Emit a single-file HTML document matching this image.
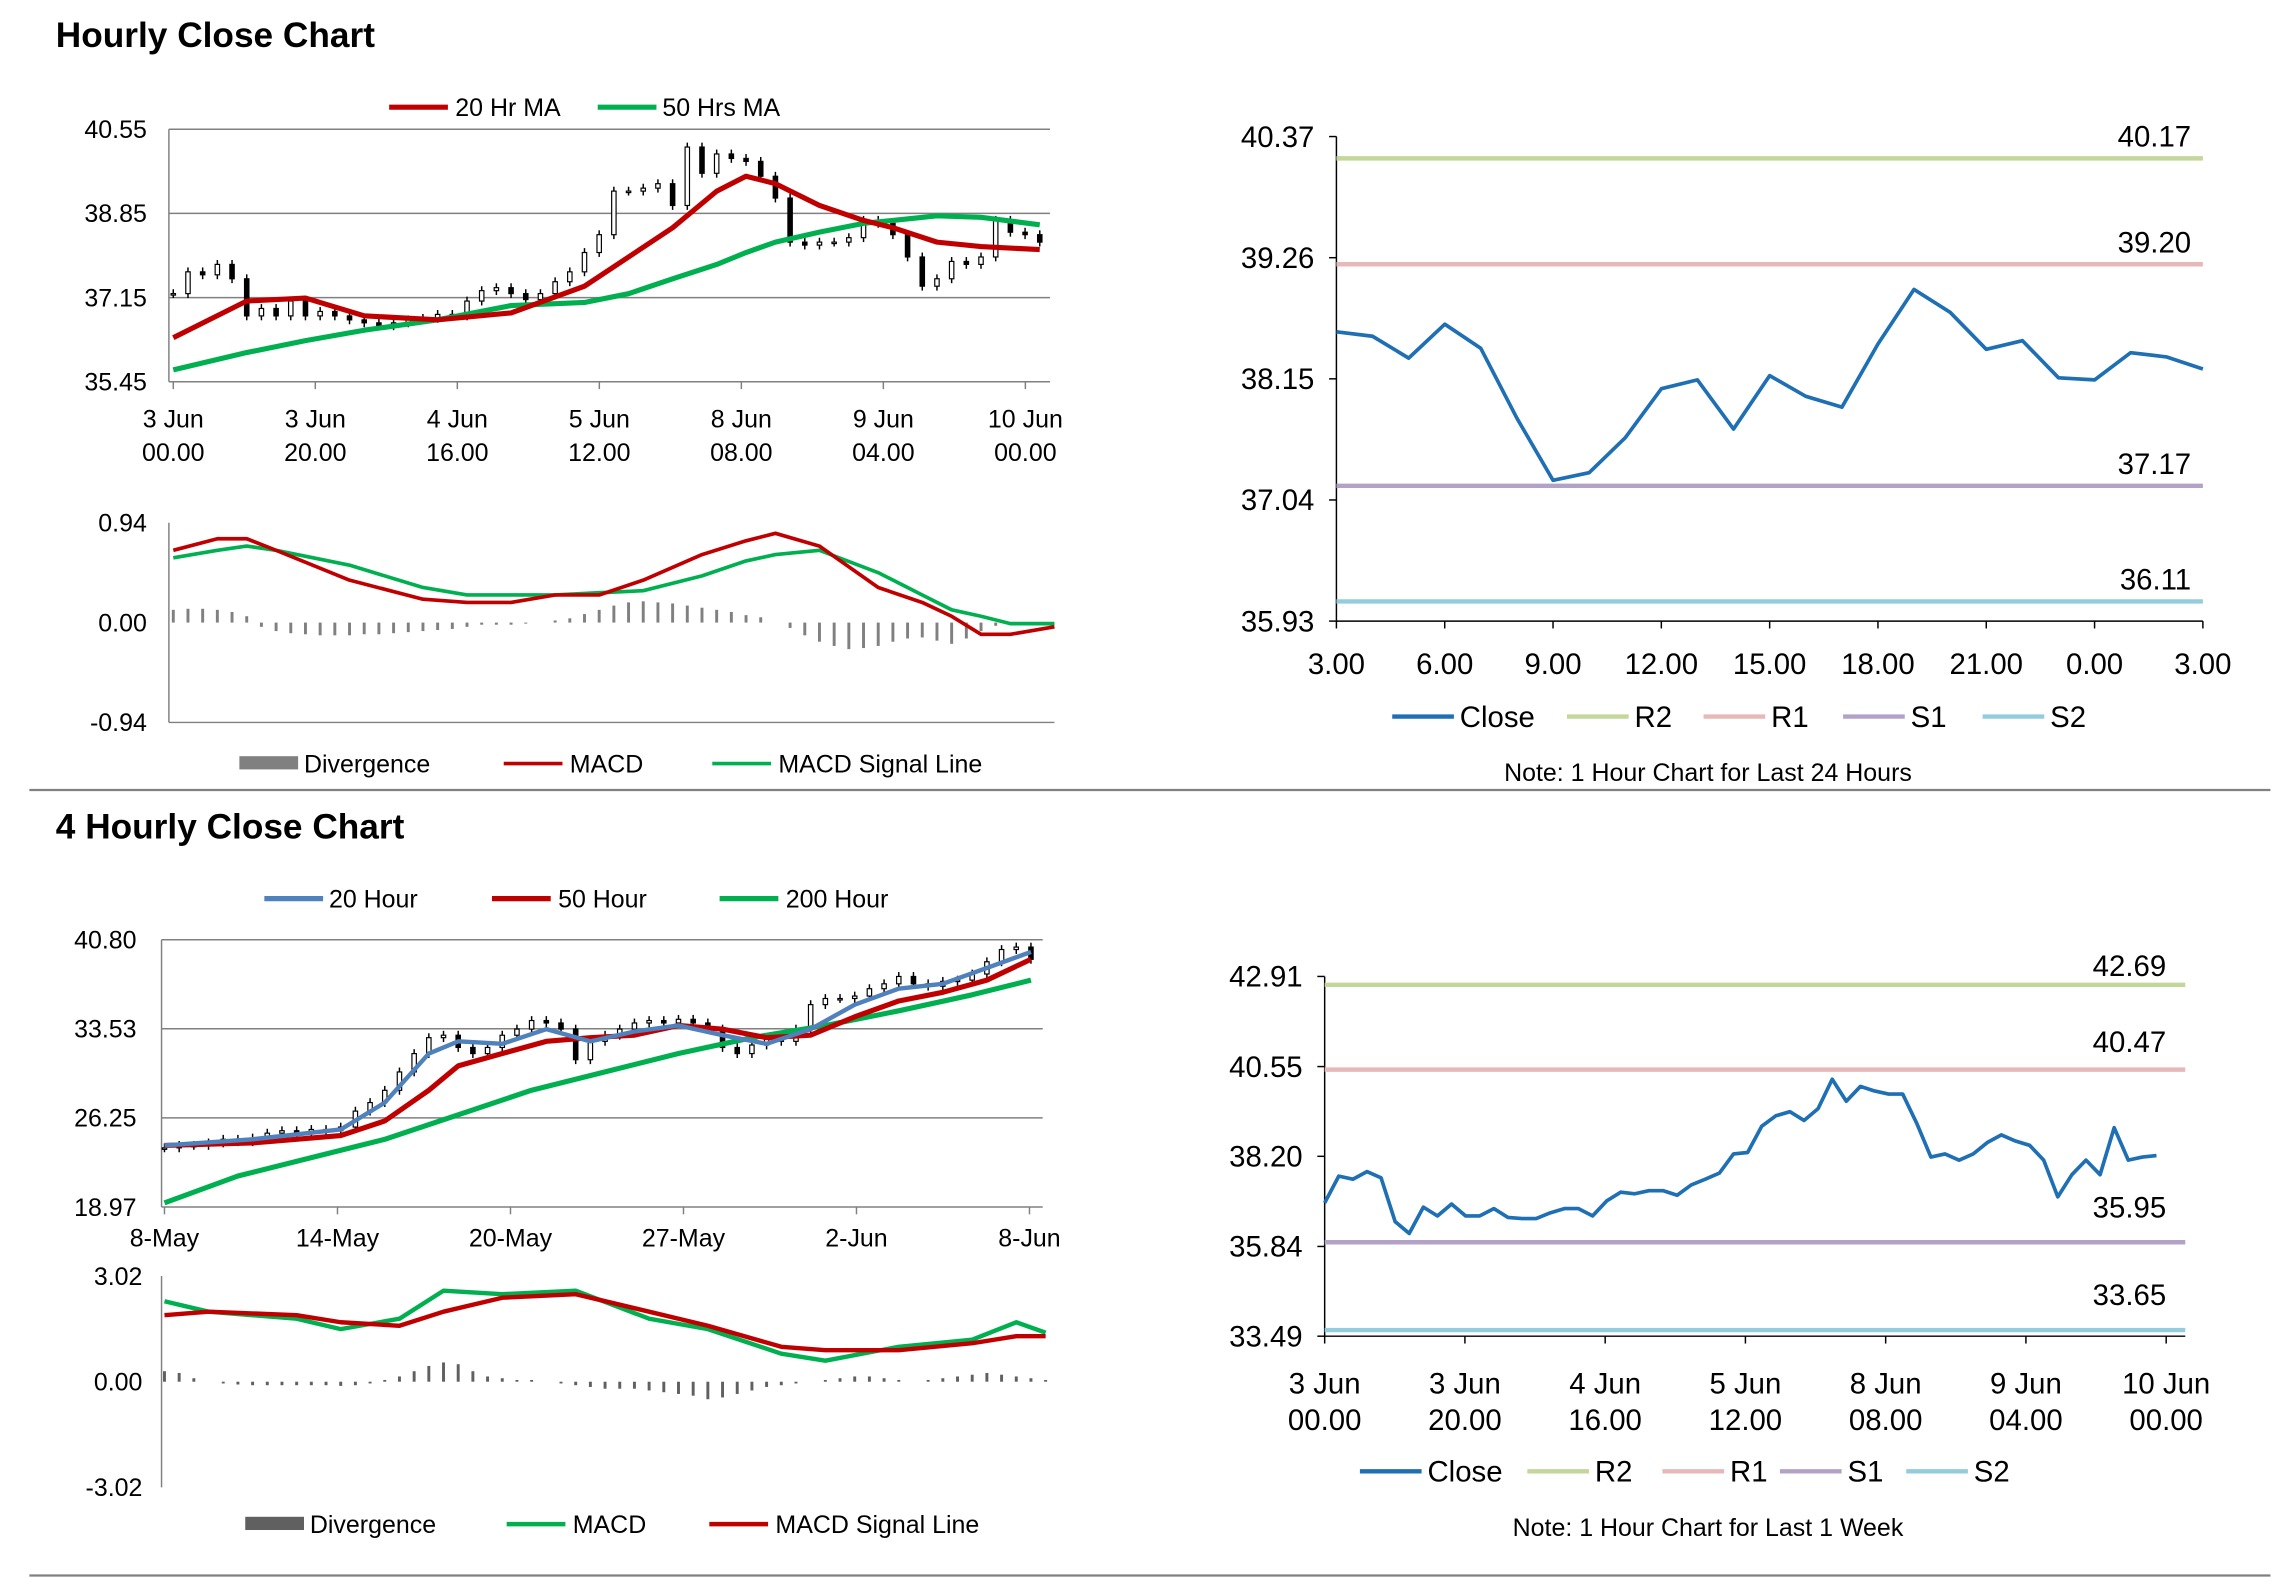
<!DOCTYPE html>
<html><head><meta charset="utf-8"><style>
html,body{margin:0;padding:0;background:#fff;}
svg{display:block;font-family:"Liberation Sans",Arial,sans-serif;}
</style></head><body>
<svg id="c" width="2291" height="1577" viewBox="0 0 1560 1074" preserveAspectRatio="none" xmlns="http://www.w3.org/2000/svg">
<text x="38" y="32" font-size="24" font-weight="bold">Hourly Close Chart</text>
<text x="38" y="571" font-size="24" font-weight="bold">4 Hourly Close Chart</text>
<line x1="20" y1="538" x2="1546" y2="538" stroke="#808080" stroke-width="1.5"/>
<line x1="20" y1="1073" x2="1546" y2="1073" stroke="#808080" stroke-width="1.5"/>
</svg>
<script>
// ---------- Chart data ----------
const h1Close = [37.23,37.67,37.61,37.82,37.53,36.78,36.93,36.78,37.08,36.78,36.87,36.78,36.70,36.64,36.58,36.64,36.70,36.73,36.81,36.78,37.08,37.29,37.35,37.23,37.11,37.23,37.47,37.67,38.06,38.42,39.30,39.30,39.36,39.45,39.01,40.19,39.66,40.05,39.96,39.90,39.60,39.16,38.27,38.21,38.27,38.27,38.36,38.71,38.65,38.42,37.97,37.38,37.53,37.88,37.82,37.97,38.71,38.47,38.42,38.27];
const h1MaIdx = [0,5,9,13,18,23,28,31,34,37,39,41,44,47,49,52,55,59];
const h1Ma20 = [36.34,37.08,37.14,36.78,36.70,36.84,37.38,37.97,38.56,39.30,39.60,39.45,39.01,38.71,38.56,38.27,38.18,38.12];
const h1Ma50 = [35.69,36.04,36.28,36.49,36.70,36.99,37.05,37.23,37.53,37.82,38.06,38.27,38.47,38.65,38.71,38.80,38.77,38.62];
const h1Ticks = [35.45,37.15,38.85,40.55];
const h1XLabels = [["3 Jun","00.00"],["3 Jun","20.00"],["4 Jun","16.00"],["5 Jun","12.00"],["8 Jun","08.00"],["9 Jun","04.00"],["10 Jun","00.00"]];

const m1Idx = [0,3,5,7,12,17,20,23,26,29,32,36,39,41,44,48,51,53,55,57,60];
const m1Macd = [0.68,0.79,0.79,0.68,0.40,0.22,0.19,0.19,0.26,0.26,0.40,0.64,0.77,0.84,0.72,0.33,0.19,0.06,-0.11,-0.11,-0.04];
const m1Signal = [0.61,0.68,0.72,0.68,0.54,0.33,0.26,0.26,0.26,0.28,0.30,0.44,0.58,0.64,0.68,0.47,0.26,0.12,0.06,-0.01,-0.01];
const m1Div = [0.12,0.13,0.13,0.12,0.10,0.06,-0.04,-0.08,-0.10,-0.11,-0.12,-0.12,-0.12,-0.11,-0.11,-0.10,-0.09,-0.08,-0.07,-0.06,-0.04,-0.02,-0.02,-0.02,-0.01,0.00,0.02,0.04,0.08,0.12,0.16,0.19,0.20,0.19,0.18,0.16,0.14,0.12,0.10,0.07,0.05,0.00,-0.05,-0.12,-0.18,-0.22,-0.25,-0.24,-0.22,-0.18,-0.15,-0.14,-0.17,-0.20,-0.15,-0.08,-0.03,-0.01,0.00,0.00,0.00];
const m1Ticks = [-0.94,0.00,0.94];

const r1Close = [38.58,38.54,38.34,38.65,38.43,37.79,37.22,37.29,37.61,38.06,38.14,37.69,38.18,37.99,37.89,38.47,38.97,38.76,38.42,38.50,38.16,38.14,38.39,38.35,38.24];
const r1Levels = [40.17,39.20,37.17,36.11];
const r1Ticks = [35.93,37.04,38.15,39.26,40.37];
const r1XLabels = ["3.00","6.00","9.00","12.00","15.00","18.00","21.00","0.00","3.00"];

const h4Close = [23.8,24.0,24.0,24.2,24.5,24.3,24.6,25.0,25.2,25.0,25.3,25.2,25.5,26.8,27.5,28.5,30.0,31.5,32.8,33.0,32.0,31.5,32.0,33.0,33.5,34.2,34.0,33.5,31.0,32.5,33.0,33.5,34.0,34.2,34.0,34.3,34.0,33.5,32.0,31.5,32.2,32.8,32.5,33.5,35.5,36.0,36.0,36.2,36.8,37.2,37.8,37.2,37.0,37.4,37.5,38.0,39.0,40.0,40.2,39.2];
const h4MaIdx = [0,6,12,15,18,20,23,26,29,32,35,38,41,44,47,50,53,56,59];
const h4Ma20 = [24.0,24.5,25.3,27.5,31.5,32.5,32.3,33.5,32.5,33.3,33.8,33.0,32.3,33.5,35.5,36.8,37.2,38.5,39.8];
const h4Ma50 = [24.0,24.2,24.8,26.0,28.5,30.5,31.5,32.5,32.8,33.0,33.8,33.5,32.8,33.0,34.5,35.8,36.5,37.5,39.2];
const h4Ma200Idx = [0,5,10,15,20,25,30,35,40,45,50,55,59];
const h4Ma200 = [19.3,21.5,23.0,24.5,26.5,28.5,30.0,31.5,32.8,33.8,35.0,36.3,37.5];
const h4Ticks = [18.97,26.25,33.53,40.80];
const h4XLabels = ["8-May","14-May","20-May","27-May","2-Jun","8-Jun"];

const m2Idx = [0,3,9,12,16,19,23,28,33,37,42,45,50,55,58,60];
const m2Signal = [1.9,2.0,1.9,1.7,1.6,2.0,2.4,2.5,2.0,1.6,1.0,0.9,0.9,1.1,1.3,1.3];
const m2Macd = [2.3,2.0,1.8,1.5,1.8,2.6,2.5,2.6,1.8,1.5,0.8,0.6,1.0,1.2,1.7,1.4];
const m2Div = [0.3,0.25,0.1,0.0,-0.05,-0.08,-0.1,-0.1,-0.1,-0.1,-0.1,-0.1,-0.12,-0.1,-0.05,0.05,0.15,0.3,0.45,0.55,0.5,0.3,0.15,0.1,0.05,0.05,0.0,-0.05,-0.1,-0.15,-0.2,-0.2,-0.2,-0.25,-0.3,-0.35,-0.4,-0.5,-0.45,-0.35,-0.25,-0.15,-0.1,-0.05,0.0,0.05,0.1,0.15,0.15,0.1,0.05,0.0,0.05,0.1,0.15,0.2,0.25,0.2,0.15,0.1,0.05];
const m2Ticks = [-3.02,0.00,3.02];

const r2Close = [36.98,37.68,37.60,37.80,37.64,36.49,36.18,36.87,36.64,36.95,36.64,36.64,36.83,36.60,36.57,36.57,36.72,36.83,36.83,36.64,37.03,37.26,37.22,37.30,37.30,37.18,37.45,37.60,37.76,38.26,38.30,38.99,39.26,39.37,39.14,39.45,40.22,39.64,40.03,39.91,39.83,39.83,39.06,38.18,38.26,38.10,38.26,38.56,38.76,38.60,38.49,38.10,37.14,37.72,38.10,37.72,38.95,38.10,38.18,38.22];
const r2Levels = [42.69,40.47,35.95,33.65];
const r2Ticks = [33.49,35.84,38.20,40.55,42.91];
const r2XLabels = [["3 Jun","00.00"],["3 Jun","20.00"],["4 Jun","16.00"],["5 Jun","12.00"],["8 Jun","08.00"],["9 Jun","04.00"],["10 Jun","00.00"]];

const levelColors = ["#c3d69b","#e6b9b8","#b3a2c7","#93cddd"];
const levelNames = ["r2","r1","s1","s2"];
const RED="#c00000", GREEN="#00b050", BLUE="#1f6fb5", LBLUE="#4f81bd";

// ---------- helpers ----------
const NS="http://www.w3.org/2000/svg";
const svg=document.getElementById('c');
function mk(tag,attrs,name){
  const el=document.createElementNS(NS,tag);
  for(const k in attrs) el.setAttribute(k,attrs[k]);
  
  
  svg.appendChild(el);
  return el;
}
function txt(x,y,s,name,opt){
  opt=opt||{};
  const el=mk('text',{x:x,y:y,'font-size':opt.size||17,'text-anchor':opt.anchor||'start',fill:opt.fill||'#000'},name);
  el.textContent=s;
  return el;
}
function ln(x1,y1,x2,y2,c,w,name){return mk('line',{x1:x1,y1:y1,x2:x2,y2:y2,stroke:c,'stroke-width':w},name);}
function sy(v,min,max,top,bot){return bot-(v-min)/(max-min)*(bot-top);}
function poly(pts,c,w,name){return mk('polyline',{points:pts.map(p=>p[0].toFixed(1)+','+p[1].toFixed(1)).join(' '),fill:'none',stroke:c,'stroke-width':w,'stroke-linejoin':'round'},name);}

// ---------- Chart 1: hourly candles ----------
(function(){
  const T=88,B=260,L=115,R=715,mn=h1Ticks[0],mx=h1Ticks[h1Ticks.length-1];
  const X=i=>118+10*i, Y=v=>sy(v,mn,mx,T,B);
  h1Ticks.forEach((t,k)=>{ln(L,Y(t),R,Y(t),'#808080',1,'h1-gridline');txt(100,Y(t)+6,t.toFixed(2),'h1-y-tick',{anchor:'end'});});
  ln(L,T,L,B,'#808080',1,'h1-y-axis');
  h1XLabels.forEach((l,k)=>{const x=118+k*96.7;ln(x,B,x,B+5,'#808080',1,'h1-x-tick');txt(x,291,l[0],'h1-x-label',{anchor:'middle'});txt(x,314,l[1],'h1-x-label',{anchor:'middle'});});
  h1Close.forEach((c,i)=>{
    const o=i?h1Close[i-1]:c; const x=X(i);
    const hi=Math.max(o,c), lo=Math.min(o,c);
    ln(x,Y(hi)-3,x,Y(lo)+3,'#000',1,'h1-candle-wick');
    mk('rect',{x:x-1.5,y:Y(hi),width:3,height:Math.max(1,Y(lo)-Y(hi)),fill:c<o?'#000':'#fff',stroke:'#000','stroke-width':0.8},'h1-candle');
  });
  poly(h1MaIdx.map((i,k)=>[X(i),Y(h1Ma50[k])]),GREEN,3.5,'h1-ma50-line');
  poly(h1MaIdx.map((i,k)=>[X(i),Y(h1Ma20[k])]),RED,3.5,'h1-ma20-line');
  ln(265,73,305,73,RED,3.5,'legend-20hr-ma-swatch');txt(310,79,'20 Hr MA','legend-20hr-ma');
  ln(407,73,447,73,GREEN,3.5,'legend-50hrs-ma-swatch');txt(451,79,'50 Hrs MA','legend-50hrs-ma');
})();

// ---------- MACD 1 ----------
(function(){
  const T=356,B=492,L=115,R=718,mn=m1Ticks[0],mx=m1Ticks[2];
  const X=i=>118+10*i, Y=v=>sy(v,mn,mx,T,B);
  m1Ticks.forEach(t=>txt(100,Y(t)+6,t.toFixed(2),'m1-y-tick',{anchor:'end'}));
  ln(L,T,L,B,'#808080',1,'m1-y-axis');ln(L,B,R,B,'#808080',1,'m1-x-axis');
  m1Div.forEach((d,i)=>{ln(X(i),Y(0),X(i),Y(d),'#808080',2,'m1-divergence-bar');});
  poly(m1Idx.map((i,k)=>[X(i),Y(m1Signal[k])]),GREEN,2.5,'m1-signal-line');
  poly(m1Idx.map((i,k)=>[X(i),Y(m1Macd[k])]),RED,2.5,'m1-macd-line');
  mk('rect',{x:163,y:515,width:40,height:9,fill:'#808080'},'legend-divergence-swatch');txt(207,526,'Divergence','legend-divergence');
  ln(343,520,383,520,RED,2.5,'legend-macd-swatch');txt(388,526,'MACD','legend-macd');
  ln(485,520,525,520,GREEN,2.5,'legend-signal-swatch');txt(530,526,'MACD Signal Line','legend-signal');
})();

// ---------- Right chart generic ----------
function rightChart(p){
  const Y=v=>sy(v,p.mn,p.mx,p.T,p.B);
  p.ticks.forEach(t=>{ln(p.L-5,Y(t),p.L,Y(t),'#000',1,p.id+'-y-tickmark');txt(p.L-15,Y(t)+7,t.toFixed(2),p.id+'-y-tick',{anchor:'end',size:20});});
  ln(p.L,p.T,p.L,p.B,'#000',1,p.id+'-y-axis');ln(p.L,p.B,p.R,p.B,'#000',1,p.id+'-x-axis');
  p.levels.forEach((v,k)=>{
    ln(p.L,Y(v),p.R,Y(v),levelColors[k],3,p.id+'-'+levelNames[k]+'-line');
    txt(p.labX,Y(v)-(p.labOff?p.labOff[k]:8),v.toFixed(2),p.id+'-'+levelNames[k]+'-label',{anchor:'end',size:20});
  });
  const n=p.close.length;
  poly(p.close.map((c,i)=>[p.L+i*p.step,Y(c)]),BLUE,2.5,p.id+'-close-line');
}
rightChart({id:'r1',T:93,B:423,L:910,R:1500,mn:r1Ticks[0],mx:r1Ticks[4],ticks:r1Ticks,levels:r1Levels,close:r1Close,step:590/24,labX:1492});
r1XLabels.forEach((l,k)=>{const x=910+k*73.75;ln(x,423,x,428,'#000',1,'r1-x-tick');txt(x,459,l,'r1-x-label',{anchor:'middle',size:20});});
rightChart({id:'r2',T:665,B:910,L:902,R:1488,mn:r2Ticks[0],mx:r2Ticks[4],ticks:r2Ticks,levels:r2Levels,close:r2Close,step:9.6,labX:1475,labOff:[6,12,17,17]});
r2XLabels.forEach((l,k)=>{const x=902+k*95.5;ln(x,910,x,915,'#000',1,'r2-x-tick');txt(x,949,l[0],'r2-x-label',{anchor:'middle',size:20});txt(x,974,l[1],'r2-x-label',{anchor:'middle',size:20});});

function rightLegend(id,y,xs,noteY,note){
  const names=['Close','R2','R1','S1','S2'];const cols=[BLUE].concat(levelColors);
  names.forEach((n,k)=>{ln(xs[k],y,xs[k]+42,y,cols[k],3,id+'-legend-'+n.toLowerCase()+'-swatch');txt(xs[k]+46,y+7,n,id+'-legend-'+n.toLowerCase(),{size:20});});
  txt(1163,noteY,note,id+'-note',{anchor:'middle',size:17});
}
rightLegend('r1',488,[948,1067,1160,1255,1350],532,'Note: 1 Hour Chart for Last 24 Hours');
rightLegend('r2',1002,[926,1040,1132,1212,1298],1046,'Note: 1 Hour Chart for Last 1 Week');

// ---------- Chart 3: 4 hourly ----------
(function(){
  const T=640,B=822,L=110,R=710,mn=h4Ticks[0],mx=h4Ticks[3];
  const X=i=>112+10*i, Y=v=>sy(v,mn,mx,T,B);
  h4Ticks.forEach(t=>{ln(L,Y(t),R,Y(t),'#808080',1,'h4-gridline');txt(93,Y(t)+6,t.toFixed(2),'h4-y-tick',{anchor:'end'});});
  ln(L,T,L,B,'#808080',1,'h4-y-axis');
  h4XLabels.forEach((l,k)=>{const x=112+k*117.8;ln(x,B,x,B+5,'#808080',1,'h4-x-tick');txt(x,849,l,'h4-x-label',{anchor:'middle'});});
  h4Close.forEach((c,i)=>{
    const o=i?h4Close[i-1]:c; const x=X(i);
    const hi=Math.max(o,c), lo=Math.min(o,c);
    ln(x,Y(hi)-3,x,Y(lo)+3,'#000',1,'h4-candle-wick');
    mk('rect',{x:x-1.5,y:Y(hi),width:3,height:Math.max(1,Y(lo)-Y(hi)),fill:c<o?'#000':'#fff',stroke:'#000','stroke-width':0.8},'h4-candle');
  });
  poly(h4Ma200Idx.map((i,k)=>[X(i),Y(h4Ma200[k])]),GREEN,3.5,'h4-ma200-line');
  poly(h4MaIdx.map((i,k)=>[X(i),Y(h4Ma50[k])]),RED,3.5,'h4-ma50-line');
  poly(h4MaIdx.map((i,k)=>[X(i),Y(h4Ma20[k])]),LBLUE,3,'h4-ma20-line');
  ln(180,612,220,612,LBLUE,3.5,'legend-20-hour-swatch');txt(224,618,'20 Hour','legend-20-hour');
  ln(335,612,375,612,RED,3.5,'legend-50-hour-swatch');txt(380,618,'50 Hour','legend-50-hour');
  ln(490,612,530,612,GREEN,3.5,'legend-200-hour-swatch');txt(535,618,'200 Hour','legend-200-hour');
})();

// ---------- MACD 2 ----------
(function(){
  const T=869,B=1013,L=110,R=715,mn=m2Ticks[0],mx=m2Ticks[2];
  const X=i=>112+10*i, Y=v=>sy(v,mn,mx,T,B);
  m2Ticks.forEach(t=>txt(97,Y(t)+6,t.toFixed(2),'m2-y-tick',{anchor:'end'}));
  ln(L,T,L,B,'#808080',1,'m2-y-axis');
  m2Div.forEach((d,i)=>{ln(X(i),Y(0),X(i),Y(d),'#606060',2,'m2-divergence-bar');});
  poly(m2Idx.map((i,k)=>[X(i),Y(m2Macd[k])]),GREEN,3,'m2-macd-line');
  poly(m2Idx.map((i,k)=>[X(i),Y(m2Signal[k])]),RED,3,'m2-signal-line');
  mk('rect',{x:167,y:1033,width:40,height:9,fill:'#606060'},'legend2-divergence-swatch');txt(211,1044,'Divergence','legend2-divergence');
  ln(345,1038,385,1038,GREEN,3,'legend2-macd-swatch');txt(390,1044,'MACD','legend2-macd');
  ln(483,1038,523,1038,RED,3,'legend2-signal-swatch');txt(528,1044,'MACD Signal Line','legend2-signal');
})();
</script>
</body></html>
